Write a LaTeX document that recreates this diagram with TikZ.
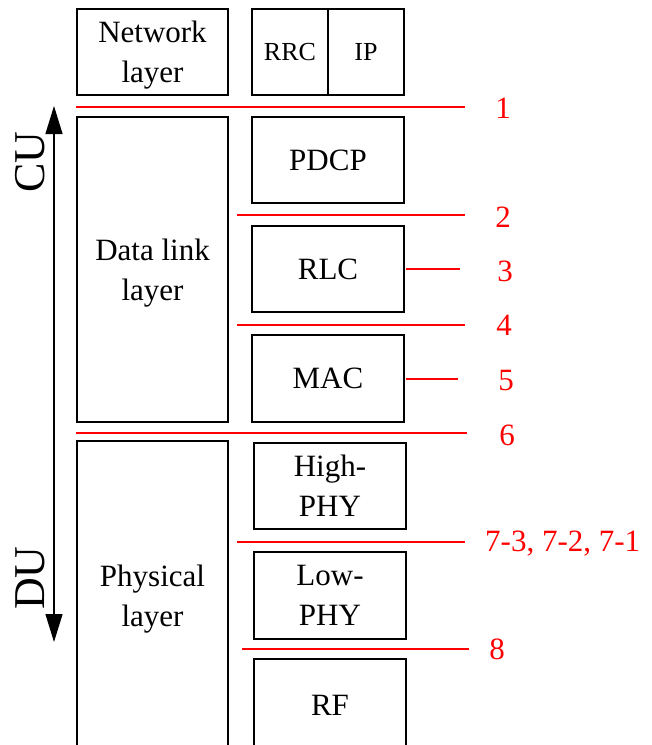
\documentclass[tikz,border=0pt]{standalone}
\usepackage{fontspec}
\setmainfont{Liberation Serif}
\usetikzlibrary{arrows.meta}
\newcommand{\topstrut}{\rule{0pt}{28pt}}
\begin{document}
\begin{tikzpicture}[x=1pt,y=-1pt,
  layerbox/.style={draw,line width=1.3pt,inner sep=0pt,align=center,
    font=\fontsize{31}{40}\selectfont},
  split/.style={draw=red,line width=2pt},
  splitlabel/.style={text=red,inner sep=0pt,anchor=base,
    font=\fontsize{31}{40}\selectfont},
  side/.style={rotate=90,inner sep=0pt,font=\fontsize{44}{50}\selectfont}]
\useasboundingbox (0,0) rectangle (652,745);

% layers on the left
\node [layerbox,minimum width=151pt,minimum height=86pt] (net) at (152.5,52) {\topstrut Network\\layer};
\node [layerbox,minimum width=151pt,minimum height=305pt] (dll) at (152.5,269.5) {\topstrut Data link\\layer};
\node [layerbox,minimum width=151pt,minimum height=309pt] (phy) at (152.5,595.5) {\topstrut Physical\\layer};

% protocol stack on the right
\node [layerbox,minimum width=76pt,minimum height=86pt,font=\fontsize{26}{30}\selectfont] (rrc) at (290,52) {RRC};
\node [layerbox,minimum width=76pt,minimum height=86pt,font=\fontsize{26}{30}\selectfont] (ip) at (366,52) {IP};
\node [layerbox,minimum width=152pt,minimum height=86pt] (pdcp) at (328,160) {PDCP};
\node [layerbox,minimum width=152pt,minimum height=86pt] (rlc) at (328,269) {RLC};
\node [layerbox,minimum width=152pt,minimum height=87pt] (mac) at (328,378.5) {MAC};
\node [layerbox,minimum width=152pt,minimum height=86pt] (high) at (330,486) {High-\\PHY};
\node [layerbox,minimum width=152pt,minimum height=87pt] (low) at (330,595.5) {Low-\\PHY};
\node [layerbox,minimum width=152pt,minimum height=92pt] (rf) at (330,705) {RF};

% CU / DU
\coordinate (cutop) at (54,106);
\coordinate (dubot) at (54,642);
\draw [line width=1.3pt,{Triangle[width=17pt,length=28pt]}-{Triangle[width=17pt,length=28pt]}] (cutop) -- (dubot);
\node [side] (cu) at (30,162) {CU};
\node [side] (du) at (30,578) {DU};

% split options
\coordinate (a1) at (76,107);  \coordinate (b1) at (465,107);
\coordinate (a2) at (237,215); \coordinate (b2) at (465,215);
\coordinate (b3) at (460,270);
\coordinate (a4) at (237,325); \coordinate (b4) at (465,325);
\coordinate (b5) at (458,378);
\coordinate (a6) at (76,433);  \coordinate (b6) at (467,433);
\coordinate (a7) at (237,542); \coordinate (b7) at (465,542);
\coordinate (a8) at (242,649); \coordinate (b8) at (469,649);

\draw [split] (a1) -- (b1);
\draw [split] (a2) -- (b2);
\draw [split] ([xshift=1.5pt]rlc.east) -- (rlc.east -| b3);
\draw [split] (a4) -- (b4);
\draw [split] ([xshift=1.5pt]mac.east) -- (mac.east -| b5);
\draw [split] (a6) -- (b6);
\draw [split] (a7) -- (b7);
\draw [split] (a8) -- (b8);

\node [splitlabel] (s1) at (503,118.5) {1};
\node [splitlabel] (s2) at (503,227.5) {2};
\node [splitlabel] (s3) at (505,281.7) {3};
\node [splitlabel] (s4) at (504,335) {4};
\node [splitlabel] (s5) at (506,390) {5};
\node [splitlabel] (s6) at (507,445) {6};
\node [splitlabel,anchor=base west] (s7) at (485,551.7) {7-3, 7-2, 7-1};
\node [splitlabel] (s8) at (497,659) {8};
\end{tikzpicture}
\end{document}
